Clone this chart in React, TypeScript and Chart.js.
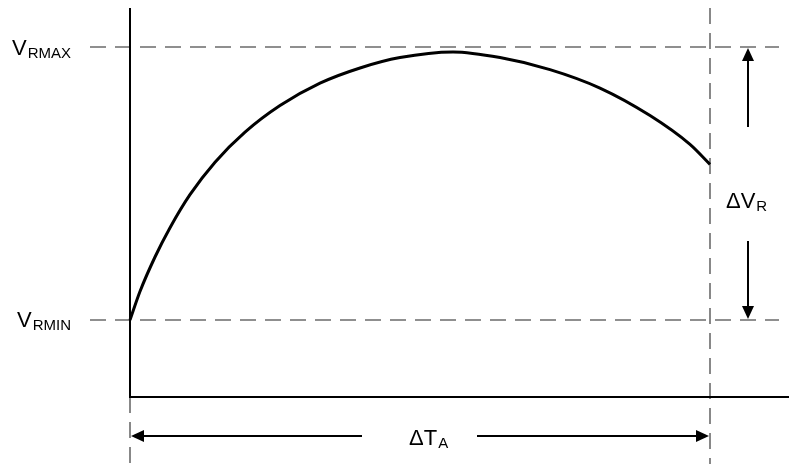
import React, { useEffect, useRef } from "react";
import { Chart, registerables } from "chart.js";

Chart.register(...registerables);

// Ambient temperature change (normalised, % of ΔTA)
const temperature = [0, 1.72, 4.31, 6.9, 10.34, 14.66, 19.83, 25.86, 32.76, 39.66, 46.55, 55.69, 63.79, 72.41, 81.03, 89.66, 96.55, 100];
// Reference voltage (normalised, % between VRMIN and VRMAX)
const voltage = [0, 10.44, 23.08, 33.81, 45.9, 57.8, 68.79, 78.53, 86.74, 92.31, 96.12, 98.17, 96.12, 91.72, 84.95, 74.87, 64.32, 57.0];

const VRMIN = 0;
const VRMAX = 100;
const T_START = 0;
const T_END = 100;

const FONT = "'Liberation Sans', Arial, sans-serif";

function drawArrowHead(ctx: CanvasRenderingContext2D, tipX: number, tipY: number, dir: "up" | "down" | "left" | "right") {
  const len = 13;
  const half = 6;
  ctx.beginPath();
  ctx.moveTo(tipX, tipY);
  if (dir === "up") {
    ctx.lineTo(tipX - half, tipY + len);
    ctx.lineTo(tipX + half, tipY + len);
  } else if (dir === "down") {
    ctx.lineTo(tipX - half, tipY - len);
    ctx.lineTo(tipX + half, tipY - len);
  } else if (dir === "left") {
    ctx.lineTo(tipX + len, tipY - half);
    ctx.lineTo(tipX + len, tipY + half);
  } else {
    ctx.lineTo(tipX - len, tipY - half);
    ctx.lineTo(tipX - len, tipY + half);
  }
  ctx.closePath();
  ctx.fill();
}

function drawLabel(ctx: CanvasRenderingContext2D, main: string, sub: string, x: number, baseline: number) {
  ctx.font = `22px ${FONT}`;
  ctx.textBaseline = "alphabetic";
  ctx.textAlign = "left";
  ctx.fillText(main, x, baseline);
  const w = ctx.measureText(main).width;
  ctx.font = `15px ${FONT}`;
  ctx.fillText(sub, x + w + 1, baseline + 3);
}

const diagramPlugin = {
  id: "diagram",
  beforeDatasetsDraw(chart: any) {
    const ctx = chart.ctx as CanvasRenderingContext2D;
    const xs = chart.scales.x;
    const ys = chart.scales.y;
    const x0 = xs.getPixelForValue(T_START);
    const x1 = xs.getPixelForValue(T_END);
    const yMin = ys.getPixelForValue(VRMIN);
    const yMax = ys.getPixelForValue(VRMAX);
    const axisY = yMin + 77;
    const W = chart.width;
    const H = chart.height;

    ctx.save();
    // dashed reference lines
    ctx.strokeStyle = "#6b6b6b";
    ctx.lineWidth = 1.6;
    ctx.setLineDash([16, 9]);
    ctx.beginPath();
    ctx.moveTo(x0 - 40, yMax);
    ctx.lineTo(W - 10, yMax);
    ctx.moveTo(x0 - 40, yMin);
    ctx.lineTo(W - 10, yMin);
    ctx.stroke();
    ctx.beginPath();
    ctx.moveTo(x1, 8);
    ctx.lineTo(x1, H);
    ctx.stroke();
    ctx.beginPath();
    ctx.moveTo(x0, axisY);
    ctx.lineTo(x0, H);
    ctx.stroke();
    ctx.setLineDash([]);

    // axes
    ctx.strokeStyle = "#000";
    ctx.lineWidth = 2;
    ctx.beginPath();
    ctx.moveTo(x0, 8);
    ctx.lineTo(x0, axisY);
    ctx.lineTo(W, axisY);
    ctx.stroke();
    ctx.restore();
  },
  afterDatasetsDraw(chart: any) {
    const ctx = chart.ctx as CanvasRenderingContext2D;
    const xs = chart.scales.x;
    const ys = chart.scales.y;
    const x0 = xs.getPixelForValue(T_START);
    const x1 = xs.getPixelForValue(T_END);
    const yMin = ys.getPixelForValue(VRMIN);
    const yMax = ys.getPixelForValue(VRMAX);
    const arrowX = x1 + 38;
    const arrowY = yMin + 116;

    ctx.save();
    ctx.fillStyle = "#000";
    ctx.strokeStyle = "#000";
    ctx.lineWidth = 2;

    // ΔVR arrows
    ctx.beginPath();
    ctx.moveTo(arrowX, yMax + 80);
    ctx.lineTo(arrowX, yMax + 10);
    ctx.moveTo(arrowX, yMin - 79);
    ctx.lineTo(arrowX, yMin - 10);
    ctx.stroke();
    drawArrowHead(ctx, arrowX, yMax + 1, "up");
    drawArrowHead(ctx, arrowX, yMin - 1, "down");

    // ΔTA arrows
    ctx.beginPath();
    ctx.moveTo(x0 + 10, arrowY);
    ctx.lineTo(362, arrowY);
    ctx.moveTo(477, arrowY);
    ctx.lineTo(x1 - 10, arrowY);
    ctx.stroke();
    drawArrowHead(ctx, x0 + 1, arrowY, "left");
    drawArrowHead(ctx, x1 - 1, arrowY, "right");

    // labels
    drawLabel(ctx, "V", "RMAX", 12, yMax + 8);
    drawLabel(ctx, "V", "RMIN", 17, yMin + 7);
    drawLabel(ctx, "ΔV", "R", 726, 208);
    drawLabel(ctx, "ΔT", "A", 409, 445);
    ctx.restore();
  },
};

export default function App() {
  const canvasRef = useRef<HTMLCanvasElement | null>(null);

  useEffect(() => {
    if (!canvasRef.current) return;
    const chart = new Chart(canvasRef.current, {
      type: "line",
      data: {
        datasets: [
          {
            data: temperature.map((t, i) => ({ x: t, y: voltage[i] })),
            borderColor: "#000",
            borderWidth: 3,
            pointRadius: 0,
            cubicInterpolationMode: "monotone",
            fill: false,
            clip: false as any,
          },
        ],
      },
      options: {
        animation: false,
        responsive: false,
        devicePixelRatio: 1,
        layout: { padding: { left: 130, right: 79, top: 47, bottom: 144 } },
        plugins: { legend: { display: false }, tooltip: { enabled: false } },
        scales: {
          x: { type: "linear", min: T_START, max: T_END, display: false },
          y: { type: "linear", min: VRMIN, max: VRMAX, display: false },
        },
      },
      plugins: [diagramPlugin],
    });
    return () => chart.destroy();
  }, []);

  return (
    <div style={{ position: "fixed", left: 0, top: 0, width: 789, height: 464, background: "#fff" }}>
      <canvas ref={canvasRef} width={789} height={464} style={{ display: "block" }} />
    </div>
  );
}
